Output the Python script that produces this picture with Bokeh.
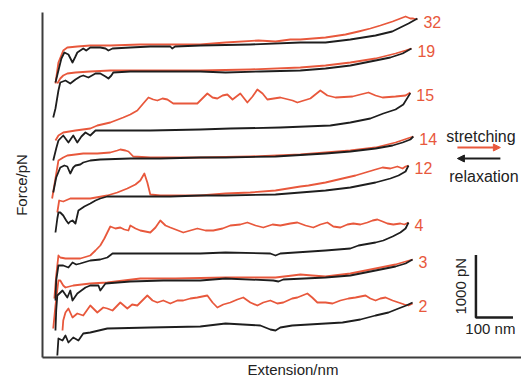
import math
from bokeh.plotting import figure
from bokeh.models import Range1d, Label, Arrow, NormalHead, Title
from bokeh.embed import file_html
from bokeh.resources import INLINE
from bokeh.core.properties import value

RED = "#e8583c"
BLACK = "#1e1e1e"
FONT = "Liberation Sans"

# ---- data: extension (nm) and stacked force (pN) ----
labels = ["32", "19", "15", "14", "12", "4", "3", "2"]

x32_s = [-5, 3, 16, 27, 54, 89, 143, 224, 305, 386, 454, 543, 589, 629, 656, 724, 778, 813, 845, 872, 905, 926, 940, 953, 961, 972]
y32_s = [4384, 4720, 4912, 4960, 4976, 4992, 4992, 5008, 5008, 5008, 5040, 5072, 5056, 5088, 5088, 5120, 5168, 5216, 5264, 5312, 5376, 5424, 5456, 5424, 5424, 5408]
x32_r = [-5, 3, 11, 19, 30, 41, 49, 54, 62, 70, 78, 89, 116, 130, 138, 149, 197, 251, 305, 310, 318, 386, 521, 656, 724, 791, 859, 904, 926, 948, 972]
y32_r = [4400, 4592, 4784, 4880, 4848, 4720, 4816, 4880, 4912, 4944, 4912, 4960, 4960, 4944, 4912, 4944, 4960, 4976, 4976, 4944, 4976, 4992, 5008, 5040, 5040, 5088, 5152, 5216, 5280, 5344, 5424]

x19_s = [0, 8, 16, 27, 49, 89, 143, 251, 386, 521, 656, 724, 791, 859, 913, 940, 956]
y19_s = [4384, 4464, 4512, 4544, 4560, 4576, 4592, 4592, 4592, 4608, 4640, 4672, 4720, 4784, 4864, 4912, 4944]
x19_r = [-11, -5, 3, 8, 22, 35, 49, 62, 70, 84, 103, 116, 130, 138, 146, 151, 197, 278, 386, 454, 548, 656, 724, 791, 859, 899, 932, 956]
y19_r = [3840, 3984, 4272, 4400, 4432, 4384, 4448, 4496, 4512, 4480, 4544, 4544, 4496, 4464, 4512, 4560, 4576, 4576, 4576, 4560, 4576, 4592, 4624, 4672, 4752, 4800, 4864, 4944]

x15_s = [-5, 3, 16, 49, 89, 108, 143, 178, 197, 216, 232, 246, 259, 270, 284, 297, 313, 346, 378, 405, 419, 432, 446, 459, 473, 494, 513, 527, 540, 554, 567, 602, 635, 648, 683, 710, 729, 751, 797, 818, 840, 859, 878, 913, 940, 953]
y15_s = [3472, 3552, 3600, 3632, 3664, 3712, 3760, 3840, 3888, 3952, 4064, 4160, 4128, 4112, 4144, 4128, 4064, 4064, 4064, 4224, 4160, 4144, 4192, 4208, 4128, 4224, 4080, 4176, 4288, 4224, 4128, 4160, 4112, 4080, 4144, 4272, 4192, 4160, 4176, 4208, 4240, 4192, 4160, 4176, 4192, 4240]
x15_r = [-11, -3, 3, 16, 30, 43, 54, 65, 76, 89, 103, 170, 251, 386, 467, 602, 737, 791, 845, 880, 913, 934, 953]
y15_r = [3152, 3344, 3472, 3552, 3440, 3552, 3440, 3536, 3600, 3552, 3632, 3632, 3632, 3648, 3664, 3680, 3712, 3760, 3824, 3904, 3968, 4048, 4230]

x14_s = [-14, -5, 3, 16, 27, 49, 70, 108, 143, 162, 170, 184, 192, 205, 251, 386, 521, 656, 724, 791, 859, 913, 961]
y14_s = [2544, 2864, 3152, 3200, 3232, 3248, 3264, 3264, 3280, 3312, 3328, 3312, 3296, 3216, 3200, 3200, 3216, 3248, 3280, 3312, 3360, 3440, 3536]
x14_r = [-11, -3, 8, 19, 27, 35, 43, 49, 62, 70, 89, 116, 197, 278, 386, 454, 589, 724, 791, 859, 905, 932, 953, 961]
y14_r = [2640, 2880, 3040, 3072, 3056, 2944, 3040, 3072, 3088, 3120, 3152, 3168, 3184, 3184, 3200, 3200, 3216, 3264, 3296, 3344, 3392, 3440, 3488, 3536]

x12_s = [0, 5, 16, 35, 62, 89, 135, 162, 189, 211, 224, 235, 243, 251, 278, 386, 454, 521, 589, 656, 678, 724, 770, 805, 832, 859, 878, 899, 918, 932, 940, 948]
y12_s = [2320, 2512, 2496, 2544, 2544, 2544, 2592, 2640, 2704, 2768, 2832, 2944, 2800, 2608, 2592, 2592, 2624, 2640, 2672, 2736, 2752, 2800, 2864, 2912, 2960, 3008, 3040, 3024, 3056, 3024, 3056, 3072]
x12_r = [-5, 0, 3, 8, 16, 24, 30, 35, 41, 49, 57, 73, 89, 103, 116, 135, 197, 305, 386, 454, 589, 724, 791, 859, 899, 921, 940, 948]
y12_r = [2000, 2224, 2320, 2320, 2272, 2192, 2144, 2176, 2192, 2144, 2352, 2416, 2464, 2512, 2544, 2576, 2576, 2576, 2592, 2592, 2608, 2672, 2720, 2800, 2864, 2912, 2976, 3072]

x4_s = [-8, -3, 3, 8, 22, 43, 62, 89, 103, 116, 127, 135, 143, 157, 170, 181, 192, 197, 211, 224, 251, 265, 278, 292, 305, 340, 359, 378, 400, 421, 446, 467, 494, 513, 535, 556, 581, 602, 629, 648, 670, 691, 710, 729, 745, 764, 783, 799, 818, 837, 851, 864, 878, 891, 907, 926, 937, 948]
y4_s = [944, 1312, 1632, 1600, 1584, 1584, 1584, 1632, 1712, 1792, 1904, 2000, 2096, 2064, 2080, 2048, 2032, 2112, 2064, 2032, 2000, 2080, 2192, 2112, 2080, 2000, 2032, 2064, 2032, 2032, 2064, 2112, 2128, 2160, 2112, 2080, 2128, 2112, 2144, 2160, 2112, 2080, 2128, 2160, 2096, 2080, 2128, 2144, 2128, 2160, 2192, 2208, 2176, 2144, 2128, 2144, 2128, 2160]
x4_r = [-5, -3, 3, 16, 30, 41, 51, 62, 89, 116, 135, 149, 224, 305, 386, 454, 575, 589, 602, 724, 791, 813, 859, 880, 905, 926, 940, 948]
y4_r = [912, 1232, 1472, 1472, 1440, 1520, 1488, 1504, 1552, 1568, 1600, 1664, 1664, 1664, 1664, 1680, 1664, 1632, 1664, 1712, 1744, 1792, 1840, 1872, 1936, 2000, 2064, 2160]

x3_s = [-11, -5, 3, 8, 16, 22, 43, 89, 135, 224, 319, 454, 589, 635, 656, 688, 724, 791, 859, 913, 959]
y3_s = [464, 832, 1232, 1232, 1152, 1120, 1152, 1184, 1200, 1264, 1264, 1280, 1280, 1312, 1328, 1312, 1296, 1344, 1424, 1488, 1568]
x3_r = [-5, -3, 0, 14, 27, 35, 41, 54, 76, 89, 111, 116, 130, 197, 286, 386, 454, 583, 597, 610, 724, 791, 859, 913, 940, 959]
y3_r = [432, 752, 992, 1072, 960, 1072, 912, 1024, 1120, 1152, 1152, 1072, 1184, 1216, 1232, 1232, 1264, 1232, 1216, 1248, 1280, 1312, 1392, 1456, 1504, 1568]

x2_s = [14, 16, 22, 30, 41, 54, 70, 89, 108, 124, 135, 149, 170, 189, 202, 216, 243, 257, 270, 286, 305, 324, 340, 359, 378, 405, 419, 432, 448, 467, 486, 502, 521, 540, 556, 575, 594, 610, 634, 648, 675, 688, 702, 724, 743, 764, 786, 805, 832, 845, 859, 872, 886, 905, 921, 937, 948, 959]
y2_s = [432, 592, 720, 784, 640, 704, 672, 832, 720, 800, 784, 752, 880, 784, 848, 832, 992, 912, 880, 912, 864, 912, 912, 944, 960, 992, 880, 800, 848, 880, 928, 960, 880, 832, 880, 912, 864, 880, 944, 960, 1024, 960, 880, 880, 864, 912, 944, 960, 992, 944, 912, 944, 960, 912, 880, 848, 832, 864]
x2_r = [0, 3, 14, 22, 30, 43, 57, 70, 89, 135, 251, 386, 454, 548, 575, 589, 602, 634, 770, 818, 859, 894, 921, 942, 959]
y2_r = [32, 304, 272, 352, 240, 320, 272, 384, 400, 464, 480, 496, 544, 512, 448, 432, 480, 512, 560, 608, 672, 720, 784, 832, 880]

stretch = [(x32_s, y32_s), (x19_s, y19_s), (x15_s, y15_s), (x14_s, y14_s),
           (x12_s, y12_s), (x4_s, y4_s), (x3_s, y3_s), (x2_s, y2_s)]
relax = [(x32_r, y32_r), (x19_r, y19_r), (x15_r, y15_r), (x14_r, y14_r),
         (x12_r, y12_r), (x4_r, y4_r), (x3_r, y3_r), (x2_r, y2_r)]

# scale bar values
bar_nm = 100
bar_pn = 1000
bar_x0 = 1130
bar_y0 = 640

p = figure(width=521, height=382, output_backend="svg", toolbar_location=None,
           x_range=Range1d(-40, 1253), y_range=Range1d(0, 5520),
           min_border_left=42, min_border_right=0, min_border_top=12,
           min_border_bottom=25, background_fill_color="white",
           border_fill_color="white", outline_line_color=None)
p.xgrid.visible = False
p.ygrid.visible = False

for ax in (p.xaxis, p.yaxis):
    ax.ticker = []
    ax.axis_line_color = "#3c3c3c"
    ax.axis_line_width = 2
    ax.major_tick_line_color = None
    ax.minor_tick_line_color = None
    ax.major_label_standoff = 0
    ax.major_label_text_font_size = "0px"

p.yaxis.axis_label = "Force/pN"
p.yaxis.axis_label_text_font = FONT
p.yaxis.axis_label_text_font_size = "15px"
p.yaxis.axis_label_text_font_style = "normal"
p.yaxis.axis_label_text_color = "#222222"
p.yaxis.axis_label_standoff = 13

p.add_layout(Title(text="Extension/nm", align="left", offset=205, standoff=2,
                   text_font=FONT, text_font_size="15px", text_font_style="normal",
                   text_color="#222222"), "below")

for (xs, ys) in stretch:
    p.line(xs, ys, line_color=RED, line_width=1.8, line_join="round")
for (xs, ys) in relax:
    p.line(xs, ys, line_color=BLACK, line_width=1.8, line_join="round")

# curve labels at the end of each stretching trace
p.text(x=[s[0][-1] for s in stretch], y=[s[1][-1] for s in stretch], text=labels,
       x_offset=6, y_offset=2, text_align="left", text_baseline="middle",
       text_color=RED, text_font=value(FONT), text_font_size="16px")

# legend
p.add_layout(Label(x=1050, y=3536, text="stretching", text_align="left",
                   text_baseline="middle", text_font=FONT, text_font_size="16px",
                   text_color="#222222"))
p.add_layout(Label(x=1058, y=2896, text="relaxation", text_align="left",
                   text_baseline="middle", text_font=FONT, text_font_size="16px",
                   text_color="#222222"))
p.add_layout(Arrow(end=NormalHead(size=7, fill_color=RED, line_color=RED),
                   x_start=1080, y_start=3360, x_end=1196, y_end=3360,
                   line_color=RED, line_width=2))
p.add_layout(Arrow(end=NormalHead(size=7, fill_color=BLACK, line_color=BLACK),
                   x_start=1196, y_start=3184, x_end=1080, y_end=3184,
                   line_color=BLACK, line_width=2))

# scale bar
p.line([bar_x0, bar_x0, bar_x0 + bar_nm], [bar_y0 + bar_pn, bar_y0, bar_y0],
       line_color=BLACK, line_width=2.5)
p.add_layout(Label(x=bar_x0 - 42, y=bar_y0 + bar_pn / 2, text="1000 pN",
                   angle=math.pi / 2, text_align="center", text_baseline="middle",
                   text_font=FONT, text_font_size="15px", text_color="#222222"))
p.add_layout(Label(x=bar_x0 + 39, y=bar_y0 - 176, text="100 nm",
                   text_align="center", text_baseline="middle",
                   text_font=FONT, text_font_size="15px", text_color="#222222"))

open("out.html", "w").write(file_html(p, INLINE))
